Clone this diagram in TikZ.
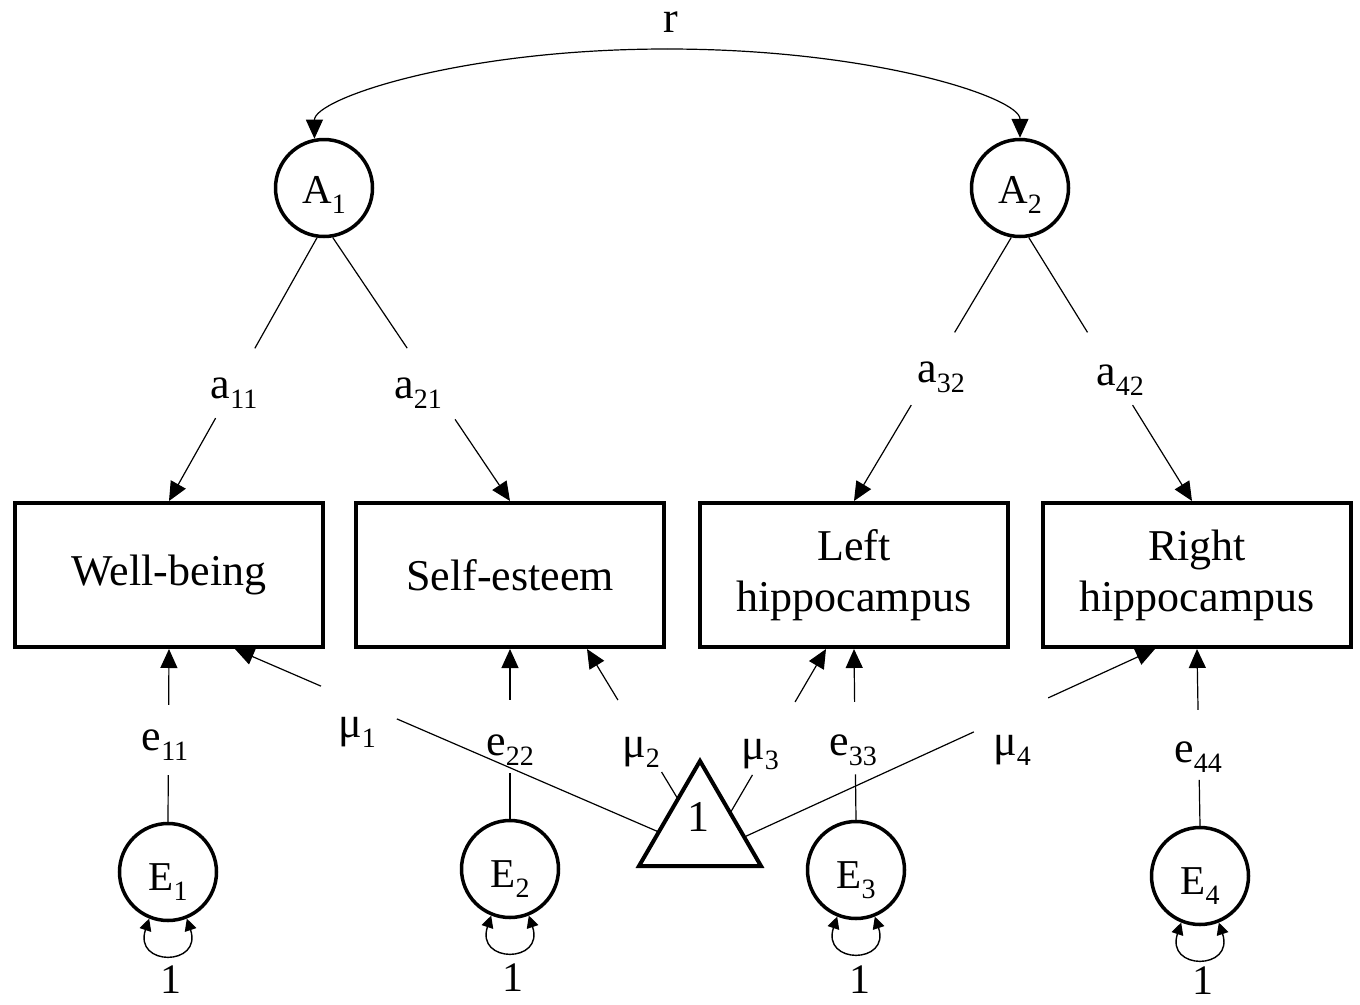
\documentclass[tikz,border=0pt]{standalone}
\usepackage{fontspec}
\setmainfont{Liberation Serif}
\usetikzlibrary{arrows.meta,calc}
\newcommand\sbs[1]{\raisebox{-10pt}{\fontsize{28}{28}\selectfont #1}}
\begin{document}
\begin{tikzpicture}[x=1pt,y=-1pt,
  box/.style={draw,line width=4pt,minimum width=308pt,minimum height=144pt,inner sep=0pt,align=center,font=\fontsize{44}{51}\selectfont},
  lat/.style={draw,circle,line width=3.5pt,minimum size=97pt,inner sep=0pt,font=\fontsize{41}{41}\selectfont},
  lab/.style={inner sep=0pt,font=\fontsize{44}{44}\selectfont},
  num/.style={inner sep=0pt,font=\fontsize{42}{42}\selectfont},
  con/.style={line width=1.2pt},
  arr/.style={con,-{Triangle[length=19pt,width=17pt]}},
  loopa/.style={line width=1.4pt,{Triangle[length=12pt,width=12pt]}-{Triangle[length=12pt,width=12pt]}},
  tri/.style={draw,line width=4pt,line join=miter}]

\useasboundingbox (0,0) rectangle (1360,1004);

% latent factors
\node[lat,text height=40pt,text depth=10pt] (A1) at (324,188) {A\sbs{1}};
\node[lat,text height=40pt,text depth=10pt] (A2) at (1020,188) {A\sbs{2}};

% observed
\node[box] (WB) at (169,575) {Well-being};
\node[box] (SE) at (510,575) {Self-esteem};
\node[box] (LH) at (854,575) {Left\\hippocampus};
\node[box] (RH) at (1197,575) {Right\\hippocampus};

% residual factors
\node[lat,text height=46pt,text depth=10pt] (E1) at (168,872) {E\sbs{1}};
\node[lat,text height=46pt,text depth=10pt] (E2) at (510,869) {E\sbs{2}};
\node[lat,text height=46pt,text depth=10pt] (E3) at (856,870) {E\sbs{3}};
\node[lat,text height=46pt,text depth=10pt] (E4) at (1200,876) {E\sbs{4}};

% mean triangle
\coordinate (T) at (700,761);
\coordinate (TL) at (639,866);
\coordinate (TR) at (761,866);
\draw[tri] (T) -- (TL) -- (TR) -- cycle;
\node[num,font=\fontsize{44}{44}\selectfont] (one) at (698,817) {1};

% correlation r
\coordinate (rtop) at (667,49);
\node[lab] (r) at (671,22) {r};
\draw[arr] (rtop) .. controls (460,49) and ($(A1.101)+(0,-40)$) .. (A1.101);
\draw[arr] (rtop) .. controls (874,49) and ($(A2.north)+(0,-40)$) .. (A2.north);

% loadings
\node[lab] (a11) at (234,393) {a\sbs{11}};
\node[lab] (a21) at (418,393) {a\sbs{21}};
\node[lab] (a32) at (941,377) {a\sbs{32}};
\node[lab] (a42) at (1120,380) {a\sbs{42}};
\draw[con] (A1.262) -- ($(A1.262)!0.42!(WB.north)$);
\draw[arr] ($(A1.262)!0.685!(WB.north)$) -- (WB.north);
\draw[con] (A1.280) -- ($(A1.280)!0.42!(SE.north)$);
\draw[arr] ($(A1.280)!0.69!(SE.north)$) -- (SE.north);
\draw[con] (A2.260) -- ($(A2.260)!0.36!(LH.north)$);
\draw[arr] ($(A2.260)!0.636!(LH.north)$) -- (LH.north);
\draw[con] (A2.280) -- ($(A2.280)!0.36!([xshift=-5pt]RH.north)$);
\draw[arr] ($(A2.280)!0.636!([xshift=-5pt]RH.north)$) -- ([xshift=-5pt]RH.north);

% residual paths
\node[lab] (e11) at (165,745) {e\sbs{11}};
\node[lab] (e22) at (510,750) {e\sbs{22}};
\node[lab] (e33) at (853,750) {e\sbs{33}};
\node[lab] (e44) at (1198,757) {e\sbs{44}};
\draw[con] (E1.north) -- ($(E1.north)!0.27!(WB.south)$);
\draw[arr] ($(E1.north)!0.676!(WB.south)$) -- (WB.south);
\draw[con] (E2.north) -- ($(E2.north)!0.27!(SE.south)$);
\draw[arr] ($(E2.north)!0.70!(SE.south)$) -- (SE.south);
\draw[con] (E3.north) -- ($(E3.north)!0.266!(LH.south)$);
\draw[arr] ($(E3.north)!0.69!(LH.south)$) -- (LH.south);
\draw[con] (E4.north) -- ($(E4.north)!0.26!(RH.south)$);
\draw[arr] ($(E4.north)!0.655!(RH.south)$) -- (RH.south);

% means
\coordinate (S1) at ($(T)!0.676!(TL)$);
\coordinate (S2) at ($(T)!0.362!(TL)$);
\coordinate (S3) at ($(T)!0.495!(TR)$);
\coordinate (S4) at ($(T)!0.724!(TR)$);
\node[lab] (m1) at (357,732) {μ\sbs{1}};
\node[lab] (m2) at (641,752) {μ\sbs{2}};
\node[lab] (m3) at (760,755) {μ\sbs{3}};
\node[lab] (m4) at (1012,750) {μ\sbs{4}};
\draw[con] (S1) -- ($(S1)!0.618!([xshift=66pt]WB.south)$);
\draw[arr] ($(S1)!0.797!([xshift=66pt]WB.south)$) -- ([xshift=66pt]WB.south);
\draw[con] (S2) -- ($(S2)!0.18!([xshift=77pt]SE.south)$);
\draw[arr] ($(S2)!0.66!([xshift=77pt]SE.south)$) -- ([xshift=77pt]SE.south);
\draw[con] (S3) -- ($(S3)!0.232!([xshift=-28pt]LH.south)$);
\draw[arr] ($(S3)!0.677!([xshift=-28pt]LH.south)$) -- ([xshift=-28pt]LH.south);
\draw[con] (S4) -- ($(S4)!0.559!([xshift=-42pt]RH.south)$);
\draw[arr] ($(S4)!0.74!([xshift=-42pt]RH.south)$) -- ([xshift=-42pt]RH.south);

% variance loops
\draw[loopa] (E1.248) .. controls +(-16,48) and +(16,48) .. (E1.292);
\draw[loopa] (E2.248) .. controls +(-16,48) and +(16,48) .. (E2.292);
\draw[loopa] (E3.248) .. controls +(-16,48) and +(16,48) .. (E3.292);
\draw[loopa] (E4.248) .. controls +(-16,48) and +(16,48) .. (E4.292);
\node[num] (v1) at (171,980) {1};
\node[num] (v2) at (513,978) {1};
\node[num] (v3) at (860,980) {1};
\node[num] (v4) at (1203,981) {1};
\end{tikzpicture}
\end{document}
